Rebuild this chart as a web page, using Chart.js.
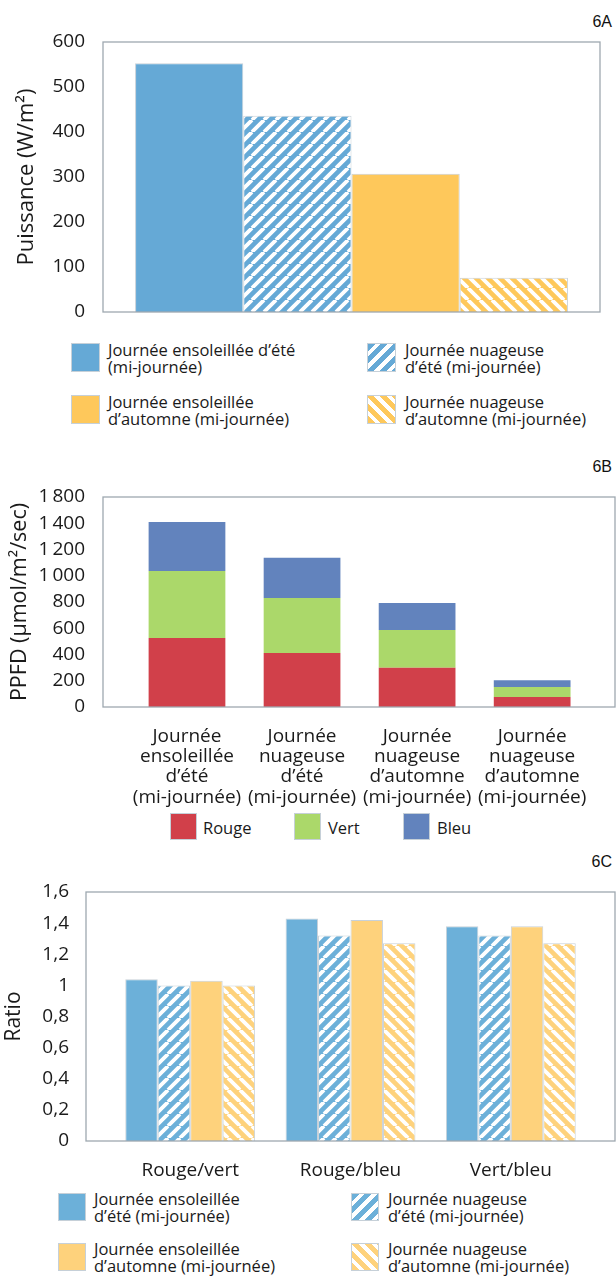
<!DOCTYPE html>
<html>
<head>
<meta charset="utf-8">
<script src="https://cdn.jsdelivr.net/npm/chart.js@4.4.1/dist/chart.umd.min.js"></script>
<style>
  body { margin: 0; background: #fff; }
  #page { position: relative; width: 616px; height: 1276px; overflow: hidden; font-family: 'Open Sans', sans-serif; color: #1a1a1a; }
  canvas { position: absolute; left: 0; }
  .tag { position: absolute; right: 4px; font: 16px/16px 'Liberation Sans', Arial, sans-serif; color: #111; }
  .item { position: absolute; font-size: 16.5px; line-height: 17px; white-space: pre; }
  .sw { position: absolute; left: 0; box-sizing: border-box; border: 1px solid #c6d0d8; }
</style>
</head>
<body>
<div id="page">
  <div class="tag" style="top:14px">6A</div>
  <canvas id="chartA" width="616" height="335" style="top:0"></canvas>
  <div class="tag" style="top:459px">6B</div>
  <canvas id="chartB" width="616" height="370" style="top:440px"></canvas>
  <div class="tag" style="top:854px">6C</div>
  <canvas id="chartC" width="616" height="330" style="top:850px"></canvas>
</div>
<script>
// ---- 6A : puissance (W/m²) ----
const legendLinesA = [
  ['Journée ensoleillée d’été', '(mi-journée)'],
  ['Journée nuageuse', 'd’été (mi-journée)'],
  ['Journée ensoleillée', 'd’automne (mi-journée)'],
  ['Journée nuageuse', 'd’automne (mi-journée)']
];
const puissance = [553, 436, 307, 76];

// ---- 6B : PPFD par couleur ----
const categoriesB = [
  ['Journée', 'ensoleillée', 'd’été', '(mi-journée)'],
  ['Journée', 'nuageuse', 'd’été', '(mi-journée)'],
  ['Journée', 'nuageuse', 'd’automne', '(mi-journée)'],
  ['Journée', 'nuageuse', 'd’automne', '(mi-journée)']
];
const rouge = [526, 411, 300, 76];
const vert = [510, 419, 287, 76];
const bleu = [374, 308, 205, 51];
const ppfdTicks = ['0', '200', '400', '600', '800', '1\u2009000', '1\u2009200', '1\u2009400', '1\u2009800'];

// ---- 6C : ratios ----
const categoriesC = ['Rouge/vert', 'Rouge/bleu', 'Vert/bleu'];
const legendLinesC = [
  ['Journée ensoleillée', 'd’été (mi-journée)'],
  ['Journée nuageuse', 'd’été (mi-journée)'],
  ['Journée ensoleillée', 'd’automne (mi-journée)'],
  ['Journée nuageuse', 'd’automne (mi-journée)']
];
const ensoleilleEte = [1.04, 1.43, 1.38];
const nuageuxEte = [1.00, 1.32, 1.32];
const ensoleilleAutomne = [1.03, 1.42, 1.38];
const nuageuxAutomne = [1.00, 1.27, 1.27];
const ratioTicks = ['0', '0,2', '0,4', '0,6', '0,8', '1', '1,2', '1,4', '1,6'];

Chart.defaults.font.family = "'Open Sans', sans-serif";
Chart.defaults.color = '#1a1a1a';

// hachures diagonales blanches
function hatch(color, dir) {
  const n = 12;
  const c = document.createElement('canvas');
  c.width = c.height = n;
  const g = c.getContext('2d');
  g.fillStyle = color;
  g.fillRect(0, 0, n, n);
  g.strokeStyle = '#fff';
  g.lineWidth = 3.8;
  g.beginPath();
  for (let k = -n; k <= n; k += n) {
    if (dir === '/') { g.moveTo(k, n); g.lineTo(k + n, 0); }
    else { g.moveTo(k, 0); g.lineTo(k + n, n); }
  }
  g.stroke();
  return g.createPattern(c, 'repeat');
}
function cssHatch(color, dir) {
  return 'repeating-linear-gradient(' + (dir === '/' ? 135 : 45) + 'deg,' + color + ' 0 5px,#fff 5px 9px)';
}

// cadre du graphique (style Excel)
const frame = {
  id: 'frame',
  afterDatasetsDraw(chart) {
    const { ctx, chartArea: a } = chart;
    ctx.save();
    ctx.strokeStyle = '#9ea8b0';
    ctx.lineWidth = 1.3;
    ctx.strokeRect(a.left, a.top, a.right - a.left, a.bottom - a.top);
    ctx.restore();
  }
};

function addLegend(items) {
  const page = document.getElementById('page');
  items.forEach(it => {
    const d = document.createElement('div');
    d.className = 'item';
    d.style.left = it.x + 'px';
    d.style.top = it.y + 'px';
    d.style.paddingLeft = it.pad + 'px';
    const sw = document.createElement('span');
    sw.className = 'sw';
    sw.style.width = sw.style.height = it.size + 'px';
    sw.style.top = it.swTop + 'px';
    sw.style.background = it.bg;
    d.appendChild(sw);
    d.appendChild(document.createTextNode(it.lines.join('\n')));
    page.appendChild(d);
  });
}

const blueA = '#65a9d6', yellowA = '#fec85b';
const blueC = '#6cb0d9', yellowC = '#fed27c';
const barBorder = '#c8d1d8';

// ---------- 6A ----------
const fillsA = [blueA, hatch(blueA, '/'), yellowA, hatch(yellowA, '\\')];
new Chart(document.getElementById('chartA'), {
  type: 'bar',
  data: {
    labels: [''],
    datasets: legendLinesA.map((lines, i) => ({
      label: lines.join(' '),
      data: [puissance[i]],
      backgroundColor: fillsA[i],
      borderColor: barBorder,
      borderWidth: 1
    }))
  },
  options: {
    responsive: false,
    animation: false,
    layout: { padding: { top: 42, right: 16, bottom: 23, left: 0 } },
    datasets: { bar: { categoryPercentage: 0.871, barPercentage: 1 } },
    plugins: { legend: { display: false }, tooltip: { enabled: false } },
    scales: {
      x: { display: false },
      y: {
        min: 0, max: 600,
        grid: { display: false }, border: { display: false },
        ticks: { stepSize: 100, padding: 10, font: { size: 19 } },
        title: { display: true, text: 'Puissance (W/m²)', font: { size: 22 }, padding: { top: 14, bottom: 0 } },
        afterFit: s => { s.width = 103; }
      }
    }
  },
  plugins: [frame]
});
addLegend([
  { x: 71, y: 341, pad: 37, size: 29, swTop: 2, bg: blueA, lines: legendLinesA[0] },
  { x: 367, y: 341, pad: 38, size: 29, swTop: 2, bg: cssHatch(blueA, '/'), lines: legendLinesA[1] },
  { x: 71, y: 393, pad: 37, size: 29, swTop: 2, bg: yellowA, lines: legendLinesA[2] },
  { x: 367, y: 393, pad: 38, size: 29, swTop: 2, bg: cssHatch(yellowA, '\\'), lines: legendLinesA[3] }
]);

// ---------- 6B ----------
const colorsB = { rouge: '#d1404a', vert: '#abd86a', bleu: '#6283bd' };
new Chart(document.getElementById('chartB'), {
  type: 'bar',
  data: {
    labels: categoriesB.map((_, i) => i),
    datasets: [
      { label: 'Rouge', data: rouge, backgroundColor: colorsB.rouge, stack: 'ppfd' },
      { label: 'Vert', data: vert, backgroundColor: colorsB.vert, stack: 'ppfd' },
      { label: 'Bleu', data: bleu, backgroundColor: colorsB.bleu, stack: 'ppfd' }
    ]
  },
  options: {
    responsive: false,
    animation: false,
    layout: { padding: { top: 57, right: 1, bottom: 0, left: 0 } },
    datasets: { bar: { categoryPercentage: 0.667, barPercentage: 1 } },
    plugins: { legend: { display: false }, tooltip: { enabled: false } },
    scales: {
      x: {
        type: 'linear', offset: false, min: -0.73, max: 3.72,
        grid: { display: false }, border: { display: false },
        ticks: {
          stepSize: 1, includeBounds: false, autoSkip: false, maxRotation: 0, minRotation: 0,
          padding: 11, font: { size: 19, lineHeight: 1.07 },
          callback: v => categoriesB[v] || ''
        },
        afterFit: s => { s.height = 103; }
      },
      y: {
        stacked: true, min: 0, max: 1600,
        grid: { display: false }, border: { display: false },
        ticks: { stepSize: 200, padding: 10, font: { size: 19 }, callback: v => ppfdTicks[Math.round(v / 200)] },
        title: { display: true, text: 'PPFD (µmol/m²/sec)', font: { size: 21.5 }, padding: { top: 7, bottom: 0 } },
        afterFit: s => { s.width = 103; }
      }
    }
  },
  plugins: [frame]
});
addLegend([
  { x: 170, y: 819, pad: 33, size: 27, swTop: -6, bg: colorsB.rouge, lines: ['Rouge'] },
  { x: 294, y: 819, pad: 34, size: 27, swTop: -6, bg: colorsB.vert, lines: ['Vert'] },
  { x: 403, y: 819, pad: 34, size: 27, swTop: -6, bg: colorsB.bleu, lines: ['Bleu'] }
]);

// ---------- 6C ----------
const fillsC = [blueC, hatch(blueC, '/'), yellowC, hatch(yellowC, '\\')];
const seriesC = [ensoleilleEte, nuageuxEte, ensoleilleAutomne, nuageuxAutomne];
new Chart(document.getElementById('chartC'), {
  type: 'bar',
  data: {
    labels: categoriesC.map((_, i) => i),
    datasets: legendLinesC.map((lines, i) => ({
      label: lines.join(' '),
      data: seriesC[i],
      backgroundColor: fillsC[i],
      borderColor: barBorder,
      borderWidth: 1
    }))
  },
  options: {
    responsive: false,
    animation: false,
    layout: { padding: { top: 42, right: 1, bottom: 0, left: 0 } },
    datasets: { bar: { categoryPercentage: 0.81, barPercentage: 1 } },
    plugins: { legend: { display: false }, tooltip: { enabled: false } },
    scales: {
      x: {
        type: 'linear', offset: false, min: -0.65, max: 2.65,
        grid: { display: false }, border: { display: false },
        ticks: {
          stepSize: 1, includeBounds: false, autoSkip: false, maxRotation: 0, minRotation: 0,
          padding: 10, font: { size: 19 },
          callback: v => categoriesC[v] || ''
        },
        afterFit: s => { s.height = 39; }
      },
      y: {
        min: 0, max: 1.6,
        grid: { display: false }, border: { display: false },
        ticks: { stepSize: 0.2, padding: 9, font: { size: 19 }, callback: v => ratioTicks[Math.round(v / 0.2)] },
        title: { display: true, text: 'Ratio', font: { size: 21 }, padding: { top: 1, bottom: 0 } },
        afterFit: s => { s.width = 86; }
      }
    }
  },
  plugins: [frame]
});
addLegend([
  { x: 58, y: 1190, pad: 36, size: 28, swTop: 3, bg: blueC, lines: legendLinesC[0] },
  { x: 351, y: 1190, pad: 37, size: 28, swTop: 3, bg: cssHatch(blueC, '/'), lines: legendLinesC[1] },
  { x: 58, y: 1240, pad: 36, size: 28, swTop: 3, bg: yellowC, lines: legendLinesC[2] },
  { x: 351, y: 1240, pad: 37, size: 28, swTop: 3, bg: cssHatch(yellowC, '\\'), lines: legendLinesC[3] }
]);
</script>
</body>
</html>
